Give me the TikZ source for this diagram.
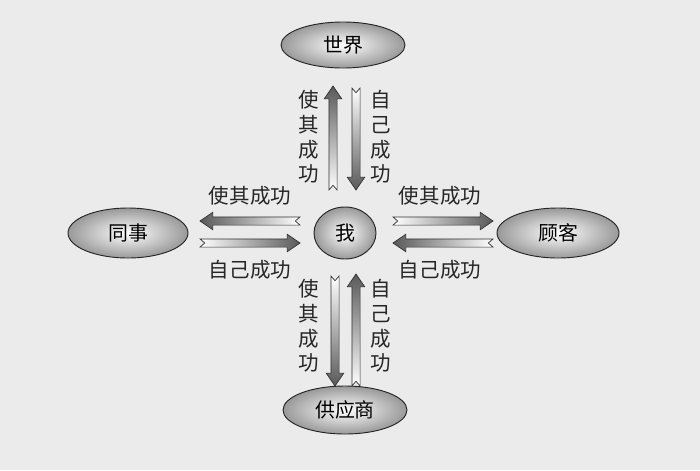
\documentclass[tikz,border=0pt]{standalone}
\usepackage{fontspec}
\newfontfamily\cjk{Noto Sans CJK SC}
\usetikzlibrary{calc,shapes.geometric}
\tikzset{
  oval/.style={ellipse,draw=black!85,line width=0.8pt,inner color=white,outer color=black!40,minimum width=#1*0.03cm,font=\cjk\fontsize{17}{19}\selectfont},
  lbl/.style={font=\cjk\fontsize{17.5}{21}\selectfont,text=black!85,align=center},
}
\newcommand\fatarr[2]{%
  \path let \p1=(#1), \p2=(#2), \n1={atan2(\y2-\y1,\x2-\x1)}, \n2={veclen(\x2-\x1,\y2-\y1)} in
   [shift={(\p1)},rotate=\n1]
   (0,3.5pt) -- (\n2-11pt,3.5pt) -- (\n2-11pt,7.5pt) -- (\n2,0) -- (\n2-11pt,-7.5pt) -- (\n2-11pt,-3.5pt) -- (0,-3.5pt) -- (4pt,0) -- cycle
   [draw=black!80,line width=0.6pt,left color=white,right color=black!65,shading angle={\n1+90}];
}
\begin{document}
\begin{tikzpicture}[x=0.03cm,y=-0.03cm]
\fill[black!8] (0,0) rectangle (700,470);
\useasboundingbox (0,0) rectangle (700,470);
\node[oval=124,minimum height=46*0.03cm] (world) at (343,45) {世界};
\node[oval=62,minimum height=52*0.03cm] (me) at (345,233) {我};
\node[oval=120,minimum height=50*0.03cm] (col) at (128,233) {同事};
\node[oval=122,minimum height=50*0.03cm] (cus) at (558,233) {顾客};
\node[oval=124,minimum height=48*0.03cm] (sup) at (345,410) {供应商};
\coordinate (a1) at (333,190); \coordinate (b1) at (333,86);
\coordinate (a2) at (356,88);  \coordinate (b2) at (356,190);
\coordinate (a3) at (335,276); \coordinate (b3) at (335,386);
\coordinate (a4) at (356,386); \coordinate (b4) at (356,274);
\coordinate (a5) at (393,221); \coordinate (b5) at (493,221);
\coordinate (a6) at (493,243); \coordinate (b6) at (393,243);
\coordinate (a7) at (300,221); \coordinate (b7) at (200,221);
\coordinate (a8) at (200,243); \coordinate (b8) at (300,243);
\fatarr{a1}{b1}\fatarr{a2}{b2}\fatarr{a3}{b3}\fatarr{a4}{b4}
\fatarr{a5}{b5}\fatarr{a6}{b6}\fatarr{a7}{b7}\fatarr{a8}{b8}
\node[lbl] (l1) at (309,137) {使\\其\\成\\功};
\node[lbl] (l2) at (381,137) {自\\己\\成\\功};
\node[lbl] (l3) at (309,326) {使\\其\\成\\功};
\node[lbl] (l4) at (381,326) {自\\己\\成\\功};
\node[lbl] (l5) at (250,196) {使其成功};
\node[lbl] (l6) at (250,270) {自己成功};
\node[lbl] (l7) at (440,196) {使其成功};
\node[lbl] (l8) at (440,270) {自己成功};
\end{tikzpicture}
\end{document}
